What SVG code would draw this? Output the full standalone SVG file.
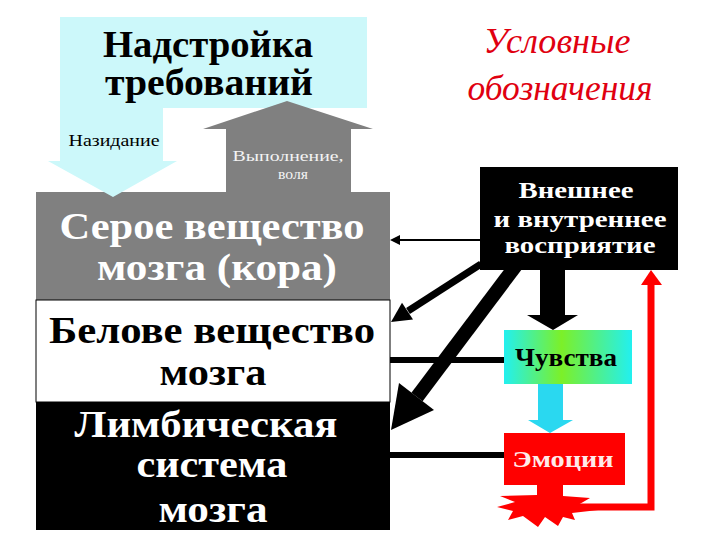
<svg xmlns="http://www.w3.org/2000/svg" width="720" height="540" viewBox="0 0 720 540" font-family="'Liberation Serif', serif">
<defs>
<style>
text{font-family:'Liberation Serif', 'DejaVu Serif', serif}
.b{font-weight:bold;text-anchor:middle}
.r{text-anchor:middle}
.big{font-size:38px}
.t{font-style:italic;font-size:36px;fill:#e00010;text-anchor:middle}
</style>
<linearGradient id="feel" x1="0" y1="0" x2="1" y2="0">
<stop offset="0" stop-color="#22f0f0"/>
<stop offset="0.45" stop-color="#7cf028"/>
<stop offset="1" stop-color="#22f0f0"/>
</linearGradient>
</defs>
<rect width="720" height="540" fill="#ffffff"/>

<g id="cortex">
<rect x="36" y="192" width="354" height="108" fill="#808080"/>
<text class="b big" x="212" y="239" fill="#ffffff" textLength="305" lengthAdjust="spacingAndGlyphs">Серое вещество</text>
<text class="b big" x="217" y="280" fill="#ffffff" textLength="240" lengthAdjust="spacingAndGlyphs">мозга (кора)</text>
</g>

<g id="nadstroika">
<polygon points="60,17 367,17 367,108 163,108 163,161 177,161 113,197 48,161 60,161" fill="#ccf8fa"/>
<text class="b" x="208" y="57" font-size="37" fill="#000" textLength="210" lengthAdjust="spacingAndGlyphs">Надстройка</text>
<text class="b" x="209" y="95" font-size="37" fill="#000" textLength="208" lengthAdjust="spacingAndGlyphs">требований</text>
<text class="r" x="114" y="146" font-size="17" fill="#000" textLength="91" lengthAdjust="spacingAndGlyphs">Назидание</text>
</g>

<g id="vypolnenie">
<polygon points="226,192 226,129 203,129 287,101 373,129 351,129 351,192" fill="#808080"/>
<text class="r" x="288" y="161" font-size="15" fill="#f4f4f4" textLength="111" lengthAdjust="spacingAndGlyphs">Выполнение,</text>
<text class="r" x="293" y="179" font-size="15" fill="#f4f4f4" textLength="30" lengthAdjust="spacingAndGlyphs">воля</text>
</g>

<g id="white-matter">
<rect x="36" y="300" width="354" height="102" fill="#ffffff" stroke="#000" stroke-width="1"/>
<text class="b big" x="212" y="343" fill="#000" textLength="326" lengthAdjust="spacingAndGlyphs">Белове вещество</text>
<text class="b big" x="213" y="385" fill="#000" textLength="107" lengthAdjust="spacingAndGlyphs">мозга</text>
</g>

<g id="limbic">
<rect x="36" y="402" width="354" height="128" fill="#000000"/>
<text class="b big" x="206" y="437" fill="#ffffff" textLength="263" lengthAdjust="spacingAndGlyphs">Лимбическая</text>
<text class="b big" x="212" y="477" fill="#ffffff" textLength="151" lengthAdjust="spacingAndGlyphs">система</text>
<text class="b big" x="213" y="522" fill="#ffffff" textLength="109" lengthAdjust="spacingAndGlyphs">мозга</text>
</g>

<g id="legend-title">
<text class="t" x="557" y="53" textLength="147" lengthAdjust="spacingAndGlyphs">Условные</text>
<text class="t" x="560" y="100" textLength="185" lengthAdjust="spacingAndGlyphs">обозначения</text>
</g>

<g id="perception">
<rect x="480" y="167" width="198" height="103" fill="#000000"/>
<text class="b" x="576" y="198" font-size="24" fill="#ffffff" textLength="115" lengthAdjust="spacingAndGlyphs">Внешнее</text>
<text class="b" x="580" y="227" font-size="24" fill="#ffffff" textLength="173" lengthAdjust="spacingAndGlyphs">и внутреннее</text>
<text class="b" x="580" y="253" font-size="24" fill="#ffffff" textLength="151" lengthAdjust="spacingAndGlyphs">восприятие</text>
</g>

<g id="feelings">
<rect x="504" y="330" width="128" height="54" fill="url(#feel)"/>
<text class="b" x="566" y="366" font-size="26" fill="#000" textLength="102" lengthAdjust="spacingAndGlyphs">Чувства</text>
</g>

<g id="emotions">
<rect x="504" y="433" width="121" height="52" fill="#ff0000"/>
<text class="b" x="563" y="467" font-size="23" fill="#ffeaea" textLength="101" lengthAdjust="spacingAndGlyphs">Эмоции</text>
<polygon points="537,484 537,495 500,496 515,502 497,507 513,511 508,520 523,516 538,527 545,517 558,526 563,517 575,520 572,513 607,509 578,505 590,498 563,496 563,484" fill="#ff0000"/>
</g>

<g id="connectors">
<line x1="480" y1="240" x2="398" y2="240" stroke="#000" stroke-width="2"/>
<polygon points="390,240 400,235 400,245" fill="#000"/>
<line x1="481" y1="264" x2="408" y2="311" stroke="#000" stroke-width="7"/>
<polygon points="391,322 413,319.5 402,302.7" fill="#000"/>
<line x1="517" y1="264" x2="417" y2="397" stroke="#000" stroke-width="14"/>
<polygon points="391,430 434,410 399,383" fill="#000"/>
<line x1="390" y1="360" x2="504" y2="360" stroke="#000" stroke-width="6"/>
<line x1="390" y1="455" x2="504" y2="455" stroke="#000" stroke-width="6"/>
<polygon points="540,270 565,270 565,315 578,315 553,330 527,315 540,315" fill="#000"/>
<polygon points="538,384 563,384 563,420 573,420 550,433 528,420 538,420" fill="#2ad8f0"/>
<polyline points="575,507 651,507 651,283" fill="none" stroke="#ff0000" stroke-width="7"/>
<polygon points="641,285 651,270 662,285" fill="#ff0000"/>
</g>
</svg>
